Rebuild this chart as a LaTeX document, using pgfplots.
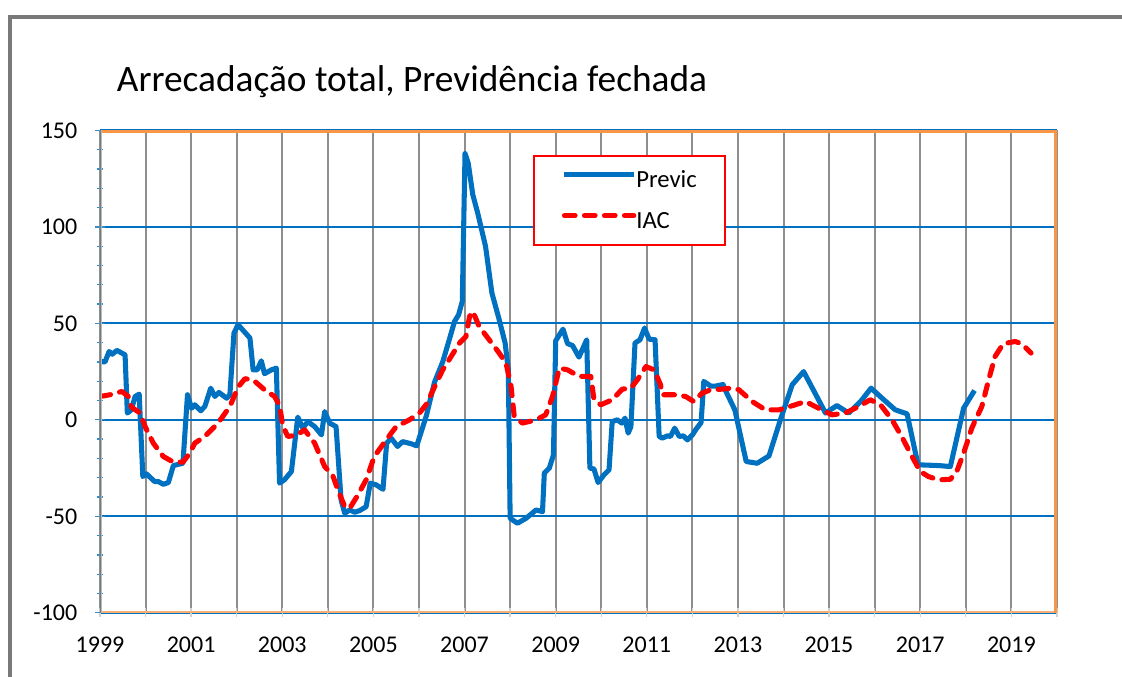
\documentclass[border=0pt]{standalone}
\usepackage{pgfplots}
\pgfplotsset{compat=1.18}
\usepackage{fontspec}
\setmainfont{Carlito}
\definecolor{xlblue}{HTML}{0070C0}
\definecolor{xlorange}{HTML}{F79646}
\definecolor{xlred}{HTML}{FF0000}
\definecolor{gridgray}{HTML}{8E8E8E}
\begin{document}
\begin{tikzpicture}
\useasboundingbox (0,0) rectangle (841.5pt,507.75pt);
\draw[color=gray!95!black, line width=2.6pt] (7.5pt,-10pt) -- (7.5pt,495pt) -- (860pt,495pt);
\node[anchor=base west, inner sep=0pt, font=\fontsize{28}{33}\selectfont] at (87.5pt,439pt) {Arrecadação total, Previdência fechada};
\begin{axis}[
  at={(75pt,48.15pt)}, anchor=south west,
  scale only axis, width=717.75pt, height=361.8pt,
  xmin=1999, xmax=2020, ymin=-100, ymax=150,
  xtick={1999,...,2020},
  xticklabels={1999,{},2001,{},2003,{},2005,{},2007,{},2009,{},2011,{},2013,{},2015,{},2017,{},2019,{}},
  ytick={-100,-50,0,50,100,150},
  minor x tick num=1, minor y tick num=4,
  xtick pos=bottom, ytick pos=left,
  xmajorgrids, ymajorgrids,
  major x grid style={color=gridgray, line width=1.5pt},
  major y grid style={color=xlblue, line width=1.4pt},
  axis line style={draw=none},
  tick align=center,
  major tick length=7pt, minor tick length=5pt,
  xtick style={color=gray!35, line width=1pt},
  ytick style={color=xlblue!80, line width=1pt},
  /pgf/number format/assume math mode=true,
  /pgf/number format/1000 sep={},
  ticklabel style={font=\fontsize{18}{21}\selectfont},
  yticklabel style={xshift=-10pt},
  xticklabel style={yshift=-11pt},
  legend style={at={(0.4525,0.949)}, anchor=north west, draw=xlred, line width=1.3pt,
    inner xsep=21pt, inner ysep=12pt, row sep=19pt,
    font=\fontsize{18.5}{22}\selectfont,
    nodes={inner sep=0pt, text height=11pt, text depth=0pt}},
  legend cell align=left,
  /tikz/every even column/.append style={column sep=6pt},
  legend image code/.code={\draw[#1] (0pt,4.5pt) -- (52pt,4.5pt);},
]
\addplot[color=xlblue, line width=3.8pt, line join=round] coordinates {
(1999.00,30.2) (1999.11,30) (1999.20,35.4) (1999.27,34) (1999.37,36) (1999.55,33.7)
(1999.60,3.5) (1999.69,5.2) (1999.77,12.1) (1999.86,13.3) (1999.94,-29.4) (2000.02,-28)
(2000.20,-32) (2000.28,-32) (2000.39,-33.4) (2000.50,-32.5) (2000.61,-23.7) (2000.82,-22.5)
(2000.92,13) (2001.01,6) (2001.08,7.8) (2001.21,4.7) (2001.30,6.9) (2001.43,16.4)
(2001.52,12.1) (2001.61,14.2) (2001.78,11.2) (2001.85,13) (2001.94,45) (2002.03,49.3)
(2002.29,42.4) (2002.36,25.9) (2002.45,25.9) (2002.54,30.6) (2002.61,23.9) (2002.76,25.9)
(2002.87,26.8) (2002.94,-32.8) (2003.05,-31) (2003.20,-26.8) (2003.34,1.4) (2003.45,-4.3)
(2003.56,-0.9) (2003.71,-3.5) (2003.86,-7.8) (2003.93,4.3) (2004.04,-1.7) (2004.18,-3.5)
(2004.29,-41.5) (2004.37,-48.4) (2004.48,-46.7) (2004.59,-47.9) (2004.70,-47) (2004.84,-45)
(2004.93,-32.8) (2005.06,-33.7) (2005.21,-36) (2005.29,-12.1) (2005.39,-9.5) (2005.53,-13.8)
(2005.64,-11.3) (2005.83,-12.4) (2005.95,-13.5) (2006.16,2) (2006.34,19.5) (2006.52,30)
(2006.67,42) (2006.78,51) (2006.87,54.5) (2006.95,61.4) (2007.01,138) (2007.08,133)
(2007.18,116.7) (2007.29,107) (2007.46,89.9) (2007.60,65.7) (2007.76,51.9) (2007.89,39.8)
(2007.96,25.9) (2008.00,-51) (2008.16,-53.6) (2008.35,-51) (2008.57,-46.7) (2008.71,-47.6)
(2008.75,-27.6) (2008.86,-25) (2008.95,-18.2) (2009.00,41) (2009.16,47) (2009.26,39.5)
(2009.37,38.5) (2009.51,32.5) (2009.68,41.5) (2009.75,-25) (2009.84,-25.5) (2009.93,-32.5)
(2010.06,-28.5) (2010.17,-25.9) (2010.24,-0.9) (2010.35,0) (2010.45,-1.7) (2010.52,0.9)
(2010.59,-6.9) (2010.65,-3.5) (2010.74,39.8) (2010.85,41.5) (2010.95,47.6) (2011.05,41.8)
(2011.18,41.5) (2011.27,-8.6) (2011.34,-9.5) (2011.45,-8.3) (2011.52,-8.6) (2011.61,-4.3)
(2011.71,-8.6) (2011.80,-8.3) (2011.89,-10.4) (2012.00,-7.8) (2012.07,-5.2) (2012.19,-1.4)
(2012.25,19.9) (2012.40,17.5) (2012.51,17.5) (2012.67,18.3) (2012.76,13.5) (2012.93,5.2)
(2013.18,-21.6) (2013.42,-22.5) (2013.68,-18.7) (2013.93,0) (2014.19,18.2) (2014.44,25)
(2014.66,15.2) (2014.92,3.5) (2015.17,7.4) (2015.43,3.5) (2015.69,9.5) (2015.92,16.4)
(2016.20,10.4) (2016.45,5.2) (2016.71,3.1) (2016.95,-23.3) (2017.40,-23.7) (2017.66,-24.2)
(2017.95,6) (2018.19,15.2)
};
\addlegendentry{Previc}
\addplot[color=xlred, line width=3.8pt, dash pattern=on 8pt off 7pt, line cap=round, line join=round] coordinates {
(1999.00,12.1) (1999.22,13) (1999.48,14.7) (1999.62,12.1) (1999.69,6.6) (1999.88,3.5)
(1999.99,-3.5) (2000.17,-12.1) (2000.39,-19) (2000.61,-21.9) (2000.82,-21.9) (2000.97,-17.3)
(2001.08,-12.1) (2001.30,-8.6) (2001.59,-1.7) (2001.85,6.9) (2002.03,17) (2002.18,21.3)
(2002.36,20.7) (2002.61,15.6) (2002.83,12.1) (2002.94,7.5) (2003.01,-3) (2003.12,-8.6)
(2003.31,-8) (2003.49,-5.2) (2003.71,-12.1) (2003.93,-24.2) (2004.11,-29) (2004.22,-36.3)
(2004.37,-45) (2004.48,-45.8) (2004.66,-38.9) (2004.84,-31.1) (2005.02,-19) (2005.28,-10.4)
(2005.50,-3.5) (2005.79,0) (2006.01,3.5) (2006.16,8) (2006.34,17) (2006.52,25.9)
(2006.67,31.5) (2006.89,39.8) (2007.03,43.2) (2007.11,53.6) (2007.18,56.2) (2007.32,48.4)
(2007.54,41.5) (2007.76,34.6) (2007.91,29.4) (2008.02,17.3) (2008.09,1.7) (2008.27,-1.7)
(2008.57,0) (2008.78,2.6) (2008.93,12.1) (2009.08,26.8) (2009.26,25.9) (2009.51,22.5)
(2009.77,22.5) (2009.84,10.4) (2009.99,7.8) (2010.24,10.4) (2010.46,15.9) (2010.65,16.4)
(2010.79,20.7) (2010.98,27.6) (2011.16,25.9) (2011.30,18.2) (2011.34,13) (2011.63,13)
(2011.85,12.1) (2012.03,9.5) (2012.21,13.8) (2012.40,15.6) (2012.65,15.9) (2012.84,16.4)
(2013.02,15.6) (2013.31,9.5) (2013.60,5.2) (2013.90,5.2) (2014.19,7.3) (2014.48,9.5)
(2014.77,6) (2015.06,2.6) (2015.35,3.5) (2015.65,6.9) (2015.90,10.4) (2016.12,8)
(2016.38,0) (2016.59,-8.6) (2016.82,-19) (2017.00,-26.8) (2017.18,-29.4) (2017.40,-31.1)
(2017.66,-30.8) (2017.80,-26.8) (2017.95,-17.3) (2018.13,-4.3) (2018.35,6.9) (2018.50,20.7)
(2018.64,32.8) (2018.82,39.4) (2019.08,40.6) (2019.23,39.4) (2019.43,34.6)
};
\addlegendentry{IAC}
\draw[color=xlorange!75, line width=2pt] (rel axis cs:0,0) -- (rel axis cs:1,0);
\draw[color=xlorange, line width=3.8pt] (rel axis cs:0,1) -- (rel axis cs:1,1) -- (rel axis cs:1,0);
\draw[color=xlorange!80, line width=2.6pt] (rel axis cs:0,0) -- (rel axis cs:0,1);
\draw[color=xlblue!80, line width=1.2pt] (rel axis cs:0,0) -- (rel axis cs:0,1);
\end{axis}
\end{tikzpicture}
\end{document}
